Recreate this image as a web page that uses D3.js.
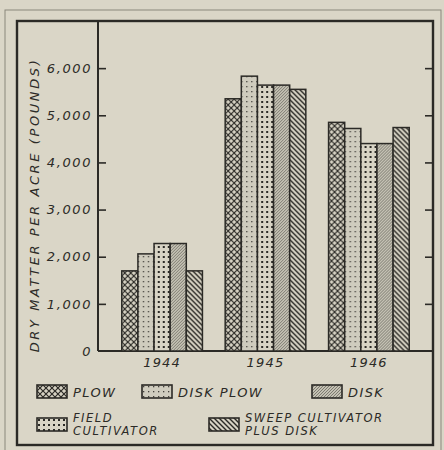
<!DOCTYPE html>
<html>
<head>
    <meta charset="utf-8">
    <style type="text/css">
        body { margin: 0; background: #dad6c7; }
        svg { display: block; }
        .lbl {
            font-family: "DejaVu Sans", sans-serif;
            font-style: italic;
            fill: #2b2a26;
        }
        .axis line { stroke: #2b2a26; stroke-width: 1.6; }
        .axis text {
            font-family: "DejaVu Sans", sans-serif;
            font-style: italic;
            font-size: 13px;
            letter-spacing: 1.6px;
            fill: #2b2a26;
        }
    </style>
</head>
<body>
<svg width="444" height="450"></svg>
<script src="https://cdnjs.cloudflare.com/ajax/libs/d3/7.8.5/d3.min.js"></script>
<script type="text/javascript">
    /*=========DATA=========*/
    var years = ['1944', '1945', '1946'];
    var methods = ['plow', 'diskPlow', 'fieldCult', 'disk', 'sweep'];
    var plow      = [1700, 5350, 4850];
    var diskPlow  = [2060, 5830, 4720];
    var fieldCult = [2280, 5640, 4400];
    var disk      = [2280, 5640, 4400];
    var sweep     = [1700, 5550, 4740];
    var yTicks = [0, 1000, 2000, 3000, 4000, 5000, 6000];
    var yTitle = 'DRY MATTER PER ACRE (POUNDS)';

    var series = { plow: plow, diskPlow: diskPlow, fieldCult: fieldCult, disk: disk, sweep: sweep };

    var ink = '#2b2a26';
    var svg = d3.select('svg');

    // patterns
    var defs = svg.append('defs');
    function pat(id, size, bg) {
        var p = defs.append('pattern').attr('id', id)
            .attr('patternUnits', 'userSpaceOnUse')
            .attr('width', size).attr('height', size);
        p.append('rect').attr('width', size).attr('height', size).attr('fill', bg);
        return p;
    }
    // plow: diamond lattice
    var p1 = pat('p-plow', 6, '#d6d2c3');
    p1.append('path').attr('d', 'M0,0L6,6M6,0L0,6').attr('stroke', ink).attr('stroke-width', 1.2);
    // disk plow: sparse small dots
    var p2 = pat('p-diskPlow', 5, '#cfccbe');
    p2.append('rect').attr('x', 1).attr('y', 1).attr('width', 1.3).attr('height', 1.3).attr('fill', '#44423c');
    // field cultivator: bigger dots
    var p3 = pat('p-fieldCult', 5, '#d8d4c5');
    p3.append('rect').attr('x', 1).attr('y', 1).attr('width', 2).attr('height', 2).attr('fill', ink);
    // disk: fine "/" hatching
    var p4 = pat('p-disk', 3, '#c4c1b3');
    p4.append('path').attr('d', 'M-1,4L4,-1M-1,1L1,-1M2,4L4,2').attr('stroke', '#6b6960').attr('stroke-width', 0.8);
    // sweep: bold "\" hatching
    var p5 = pat('p-sweep', 5, '#d6d2c3');
    p5.append('path').attr('d', 'M-1,-1L6,6M-1,4L1,6M4,-1L6,1').attr('stroke', ink).attr('stroke-width', 1.4);

    // frames
    svg.append('rect').attr('x', 5).attr('y', 10).attr('width', 436).attr('height', 445)
        .attr('fill', 'none').attr('stroke', '#8a877c').attr('stroke-width', 1);
    svg.append('rect').attr('x', 17).attr('y', 21).attr('width', 416).attr('height', 424)
        .attr('fill', 'none').attr('stroke', ink).attr('stroke-width', 2.4);

    var plotL = 98, plotR = 433, plotT = 21, plotB = 351;

    var x0 = d3.scaleBand().domain(years).range([plotL, plotR])
        .paddingInner(0.22).paddingOuter(0.23);
    var x1 = d3.scaleBand().domain(methods).range([0, x0.bandwidth()]);
    var y = d3.scaleLinear().domain([0, 7000]).range([plotB, plotT]);

    // axes
    var yAxis = d3.axisLeft(y).tickValues(yTicks)
        .tickSizeInner(-8).tickSizeOuter(0).tickPadding(6)
        .tickFormat(d3.format(','));
    var ga = svg.append('g').attr('class', 'axis').attr('transform', 'translate(' + plotL + ',0)').call(yAxis);
    ga.select('.domain').remove();
    ga.selectAll('.tick').filter(function (d) { return d === 0; }).select('line').remove();

    var yAxisR = d3.axisRight(y).tickValues(yTicks.slice(1))
        .tickSizeInner(-8).tickSizeOuter(0).tickFormat('');
    var gr = svg.append('g').attr('class', 'axis').attr('transform', 'translate(' + plotR + ',0)').call(yAxisR);
    gr.select('.domain').remove();

    svg.append('line').attr('x1', plotL).attr('x2', plotL).attr('y1', plotT).attr('y2', plotB)
        .attr('stroke', ink).attr('stroke-width', 2);
    svg.append('line').attr('x1', plotL).attr('x2', plotR).attr('y1', plotB).attr('y2', plotB)
        .attr('stroke', ink).attr('stroke-width', 2);

    // bars
    var groups = svg.append('g').selectAll('g').data(years).join('g')
        .attr('transform', function (d) { return 'translate(' + x0(d) + ',0)'; });
    groups.selectAll('rect')
        .data(function (d, i) { return methods.map(function (m) { return { m: m, v: series[m][i] }; }); })
        .join('rect')
        .attr('x', function (d) { return x1(d.m); })
        .attr('width', x1.bandwidth())
        .attr('y', function (d) { return y(d.v); })
        .attr('height', function (d) { return plotB - y(d.v); })
        .attr('fill', function (d) { return 'url(#p-' + d.m + ')'; })
        .attr('stroke', ink).attr('stroke-width', 1.5);

    // year labels
    svg.append('g').selectAll('text').data(years).join('text')
        .attr('class', 'lbl')
        .attr('x', function (d) { return x0(d) + x0.bandwidth() / 2; })
        .attr('y', 367)
        .attr('text-anchor', 'middle')
        .attr('font-size', 13).attr('letter-spacing', 1.2)
        .text(function (d) { return d; });

    // y title
    svg.append('text').attr('class', 'lbl')
        .attr('transform', 'translate(39,205) rotate(-90)')
        .attr('text-anchor', 'middle')
        .attr('font-size', 13).attr('letter-spacing', 2.6)
        .text(yTitle);

    // legend
    var legend = [
        { m: 'plow', x: 37, y: 385, lines: ['PLOW'] },
        { m: 'diskPlow', x: 142, y: 385, lines: ['DISK PLOW'] },
        { m: 'disk', x: 312, y: 385, lines: ['DISK'] },
        { m: 'fieldCult', x: 37, y: 418, lines: ['FIELD', 'CULTIVATOR'] },
        { m: 'sweep', x: 209, y: 418, lines: ['SWEEP CULTIVATOR', 'PLUS DISK'] }
    ];
    var lg = svg.append('g').selectAll('g').data(legend).join('g')
        .attr('transform', function (d) { return 'translate(' + d.x + ',' + d.y + ')'; });
    lg.append('rect').attr('width', 30).attr('height', 13)
        .attr('fill', function (d) { return 'url(#p-' + d.m + ')'; })
        .attr('stroke', ink).attr('stroke-width', 1.6);
    lg.each(function (d) {
        var g = d3.select(this);
        var two = d.lines.length > 1;
        d.lines.forEach(function (t, i) {
            var yy = two ? (i === 0 ? 4 : 16.5) : 11.5;
            g.append('text').attr('class', 'lbl')
                .attr('x', 36).attr('y', yy)
                .attr('font-size', two ? 11.5 : 13)
                .attr('letter-spacing', two ? 1.5 : 1.4)
                .text(t);
        });
    });
</script>
</body>
</html>
